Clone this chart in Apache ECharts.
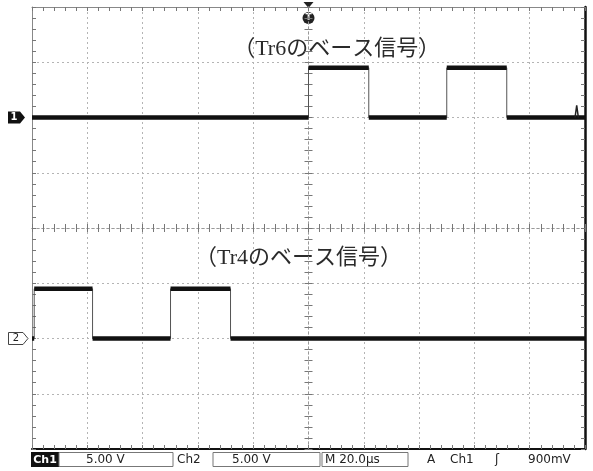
<!DOCTYPE html>
<html><head><meta charset="utf-8">
<script src="https://cdn.jsdelivr.net/npm/echarts@6/dist/echarts.min.js"></script>
<style>html,body{margin:0;padding:0;background:#fff}#c{width:593px;height:471px}</style>
</head><body><div id="c"></div>
<script>
// Horizontal: 20 µs/div, 10 divisions
const timeRange = [-100, 100];
const timeStep = 20;
// Vertical: 5 V/div, 8 divisions
const voltRange = [-20, 20];
const voltStep = 5;
// Edge times (µs): rise, fall, rise, fall
const ch1EdgeTimes = [0, 21.8, 50.0, 71.7];
const ch2EdgeTimes = [-99.2, -78.1, -49.9, -28.2];
// Low / high levels (V)
const ch1Levels = [0, 4.5];
const ch2Levels = [0, 4.5];
// Ground reference offsets of each channel (V on screen, = ±2 div)
const ch1Offset = 10;
const ch2Offset = -10;
// Small glitch near the right edge of Ch1
const ch1Glitch = [[96.4, 0], [97.0, 1.1], [97.6, 0]];
// Annotations
const annotations = ['（Tr6のベース信号）', '（Tr4のベース信号）'];
const annotationPos = [[10.2, 16.2], [-3.6, -2.7]];
// Status bar
const statusItems = ['Ch1', '5.00 V', 'Ch2', '5.00 V', 'M 20.0µs', 'A', 'Ch1', 'ʃ', '900mV'];

function levelData(edges, levels, off) {
  const b = [timeRange[0]].concat(edges, [timeRange[1]]);
  const out = [];
  for (let i = 0; i < b.length - 1; i++) {
    const v = off + levels[i % 2];
    out.push([b[i], v], [b[i + 1], v], [b[i + 1], '-']);
  }
  return out;
}
function stepData(edges, levels, off) {
  const b = [timeRange[0]].concat(edges, [timeRange[1]]);
  const out = [];
  for (let i = 0; i < b.length - 1; i++) {
    const v = off + levels[i % 2];
    out.push([b[i], v], [b[i + 1], v]);
  }
  return out;
}

const tickStyle = {color: '#777', width: 1};
function xAx(opt) {
  return Object.assign({
    type: 'value', min: timeRange[0], max: timeRange[1], interval: timeStep,
    axisLabel: {show: false}, splitLine: {show: false},
    axisTick: {show: true, inside: true, length: 4, lineStyle: tickStyle},
    minorTick: {show: true, splitNumber: 5, length: 4, lineStyle: tickStyle}
  }, opt);
}
function yAx(opt) {
  return Object.assign({
    type: 'value', min: voltRange[0], max: voltRange[1], interval: voltStep,
    axisLabel: {show: false}, splitLine: {show: false},
    axisTick: {show: true, inside: true, length: 4, lineStyle: tickStyle},
    minorTick: {show: true, splitNumber: 5, length: 4, lineStyle: tickStyle}
  }, opt);
}
const gridLine = {show: true, lineStyle: {color: '#b4b4b4', type: [2, 3], width: 1}};
const centerLine = {color: '#999', type: [2, 3], width: 1};

const chart = echarts.init(document.getElementById('c'), null, {renderer: 'canvas'});
const option = {
  animation: false,
  backgroundColor: '#fff',
  grid: {left: 32, right: 8, top: 7, bottom: 22, containLabel: false},
  xAxis: [
    xAx({position: 'top', axisLine: {show: true, onZero: false, lineStyle: {color: '#888', width: 1}}, splitLine: gridLine}),
    xAx({position: 'bottom', axisLine: {show: true, onZero: false, lineStyle: {color: '#111', width: 2}}}),
    xAx({position: 'bottom', axisLine: {show: true, onZero: true, onZeroAxisIndex: 0, lineStyle: centerLine}}),
    xAx({position: 'bottom', axisLine: {show: true, onZero: true, onZeroAxisIndex: 0, lineStyle: centerLine},
         axisTick: {show: true, inside: false, length: 4, lineStyle: tickStyle},
         minorTick: {show: true, splitNumber: 5, length: 4, lineStyle: tickStyle}})
  ],
  yAxis: [
    yAx({position: 'left', axisLine: {show: true, onZero: false, lineStyle: {color: '#888', width: 1}}, splitLine: gridLine}),
    yAx({position: 'right', axisLine: {show: true, onZero: false, lineStyle: {color: '#111', width: 2.5}}}),
    yAx({position: 'left', axisLine: {show: true, onZero: true, onZeroAxisIndex: 0, lineStyle: centerLine}}),
    yAx({position: 'left', axisLine: {show: true, onZero: true, onZeroAxisIndex: 0, lineStyle: centerLine},
         axisTick: {show: true, inside: false, length: 4, lineStyle: tickStyle},
         minorTick: {show: true, splitNumber: 5, length: 4, lineStyle: tickStyle}})
  ],
  series: [
    {type: 'line', name: 'ch1-edges', data: stepData(ch1EdgeTimes, ch1Levels, ch1Offset), showSymbol: false,
     lineStyle: {color: '#555', width: 1}, z: 3},
    {type: 'line', name: 'ch1', data: levelData(ch1EdgeTimes, ch1Levels, ch1Offset), showSymbol: false, connectNulls: false,
     lineStyle: {color: '#111', width: 4.5}, z: 4},
    {type: 'line', name: 'ch1-glitch', data: ch1Glitch.map(p => [p[0], ch1Offset + p[1]]), showSymbol: false,
     lineStyle: {color: '#222', width: 1.5}, z: 4},
    {type: 'line', name: 'ch2-edges', data: stepData(ch2EdgeTimes, ch2Levels, ch2Offset), showSymbol: false,
     lineStyle: {color: '#555', width: 1}, z: 3},
    {type: 'line', name: 'ch2', data: levelData(ch2EdgeTimes, ch2Levels, ch2Offset), showSymbol: false, connectNulls: false,
     lineStyle: {color: '#111', width: 4.5}, z: 4}
  ]
};
chart.setOption(option);

function px(t, v) { return chart.convertToPixel({gridIndex: 0}, [t, v]); }
const y1 = px(0, ch1Offset)[1];
const y2 = px(0, ch2Offset)[1];
const trig = px(0, voltRange[1]);
const a1 = px(annotationPos[0][0], annotationPos[0][1]);
const a2 = px(annotationPos[1][0], annotationPos[1][1]);
const labFont = '22px "Liberation Serif", "Noto Sans CJK JP", serif';
const sFont = '12px "DejaVu Sans", sans-serif';
const sy = 460;

chart.setOption({
  graphic: [
    // annotations
    {type: 'text', x: a1[0], y: a1[1], style: {text: annotations[0], font: labFont, fill: '#2a2a2a', align: 'center', verticalAlign: 'middle'}},
    {type: 'text', x: a2[0], y: a2[1], style: {text: annotations[1], font: labFont, fill: '#2a2a2a', align: 'center', verticalAlign: 'middle'}},
    // ch1 marker
    {type: 'polygon', shape: {points: [[8, y1 - 6], [20, y1 - 6], [25, y1], [20, y1 + 6], [8, y1 + 6]]}, style: {fill: '#111'}},
    {type: 'text', x: 14, y: y1, style: {text: '1', font: 'bold 10px "DejaVu Sans", sans-serif', fill: '#fff', align: 'center', verticalAlign: 'middle'}},
    // ch2 marker
    {type: 'polygon', shape: {points: [[8.5, y2 - 6], [23, y2 - 6], [28, y2], [23, y2 + 6], [8.5, y2 + 6]]}, style: {fill: '#fff', stroke: '#444', lineWidth: 1}},
    {type: 'text', x: 16, y: y2, style: {text: '2', font: '10px "DejaVu Sans", sans-serif', fill: '#222', align: 'center', verticalAlign: 'middle'}},
    // trigger marker
    {type: 'polygon', shape: {points: [[trig[0] - 5, 2], [trig[0] + 5, 2], [trig[0], 8]]}, style: {fill: '#222'}},
    {type: 'circle', shape: {cx: trig[0], cy: 18, r: 6}, style: {fill: '#222'}},
    {type: 'text', x: trig[0], y: 18, style: {text: 'T', font: 'bold 9px "DejaVu Sans", sans-serif', fill: '#fff', align: 'center', verticalAlign: 'middle'}},
    // status bar
    {type: 'rect', shape: {x: 31, y: 452, width: 28, height: 15}, style: {fill: '#111'}},
    {type: 'text', x: 45, y: sy, style: {text: statusItems[0], font: 'bold 11px "DejaVu Sans", sans-serif', fill: '#fff', align: 'center', verticalAlign: 'middle'}},
    {type: 'rect', shape: {x: 59, y: 452.5, width: 114, height: 14}, style: {fill: 'none', stroke: '#777', lineWidth: 1}},
    {type: 'text', x: 86, y: sy, style: {text: statusItems[1], font: sFont, fill: '#222', verticalAlign: 'middle'}},
    {type: 'text', x: 177, y: sy, style: {text: statusItems[2], font: sFont, fill: '#222', verticalAlign: 'middle'}},
    {type: 'rect', shape: {x: 213, y: 452.5, width: 107, height: 14}, style: {fill: 'none', stroke: '#777', lineWidth: 1}},
    {type: 'text', x: 232, y: sy, style: {text: statusItems[3], font: sFont, fill: '#222', verticalAlign: 'middle'}},
    {type: 'rect', shape: {x: 322, y: 452.5, width: 86, height: 14}, style: {fill: 'none', stroke: '#777', lineWidth: 1}},
    {type: 'text', x: 325, y: sy, style: {text: statusItems[4], font: sFont, fill: '#222', verticalAlign: 'middle'}},
    {type: 'text', x: 427, y: sy, style: {text: statusItems[5], font: sFont, fill: '#222', verticalAlign: 'middle'}},
    {type: 'text', x: 450, y: sy, style: {text: statusItems[6], font: sFont, fill: '#222', verticalAlign: 'middle'}},
    {type: 'text', x: 495, y: sy, style: {text: statusItems[7], font: sFont, fill: '#222', verticalAlign: 'middle'}},
    {type: 'text', x: 528, y: sy, style: {text: statusItems[8], font: sFont, fill: '#222', verticalAlign: 'middle'}}
  ]
});
</script>
</body></html>
